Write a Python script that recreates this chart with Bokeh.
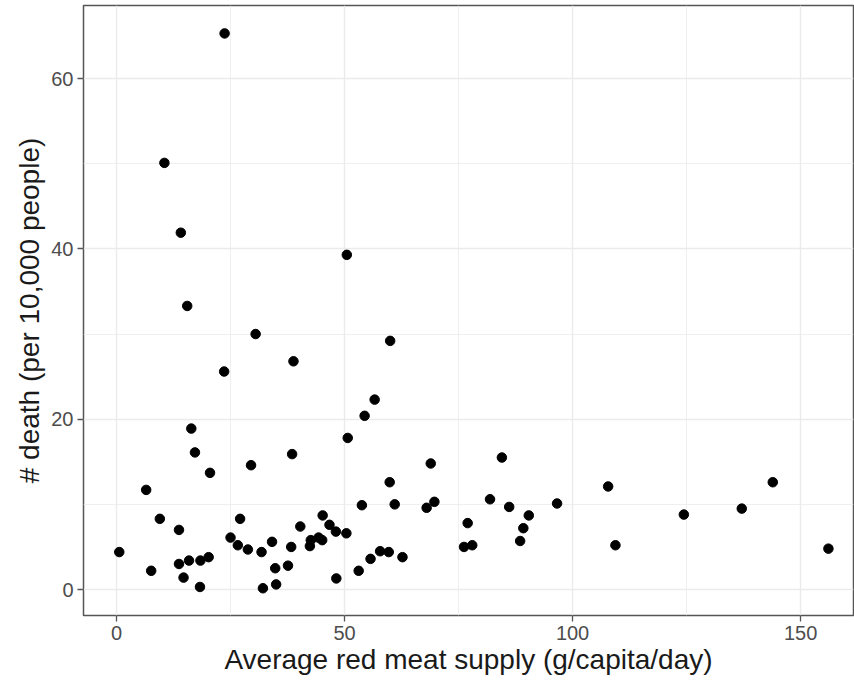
from bokeh.plotting import figure
from bokeh.models import FixedTicker, Range1d, ColumnDataSource
from bokeh.embed import file_html
from bokeh.resources import INLINE

meat_supply = [23.7, 10.5, 14.1, 50.5, 15.5, 30.5, 38.8, 23.6, 60.0, 56.6, 54.4,
               16.4, 17.2, 20.5, 29.5, 38.5, 50.7, 6.5, 9.5, 13.7, 27.1, 25.0,
               26.6, 28.8, 31.8, 34.1, 38.3, 40.3, 42.4, 42.6, 44.3, 45.1, 45.2,
               46.7, 48.1, 50.4, 53.8, 55.7, 53.1, 48.2, 0.6, 7.6, 13.7, 15.9,
               18.4, 20.2, 14.7, 18.3, 34.8, 37.6, 35.0, 32.1,
               68.9, 59.9, 61.0, 68.0, 69.7, 57.8, 59.7, 62.7, 77.0, 76.2, 78.0,
               81.9, 84.5, 86.1, 90.4, 89.2, 88.5, 96.6, 107.8, 109.4,
               124.4, 137.1, 143.9, 156.1]
deaths = [65.3, 50.1, 41.9, 39.3, 33.3, 30.0, 26.8, 25.6, 29.2, 22.3, 20.4,
          18.9, 16.1, 13.7, 14.6, 15.9, 17.8, 11.7, 8.3, 7.0, 8.3, 6.1,
          5.2, 4.7, 4.4, 5.6, 5.0, 7.4, 5.1, 5.8, 6.1, 5.8, 8.7,
          7.6, 6.8, 6.6, 9.9, 3.6, 2.2, 1.3, 4.4, 2.2, 3.0, 3.4,
          3.4, 3.8, 1.4, 0.3, 2.5, 2.8, 0.6, 0.15,
          14.8, 12.6, 10.0, 9.6, 10.3, 4.5, 4.4, 3.8, 7.8, 5.0, 5.2,
          10.6, 15.5, 9.7, 8.7, 7.2, 5.7, 10.1, 12.1, 5.2,
          8.8, 9.5, 12.6, 4.8]

x_ticks = [0, 50, 100, 150]
x_minor = [25, 75, 125]
y_ticks = [0, 20, 40, 60]
y_minor = [10, 30, 50]

src = ColumnDataSource(dict(x=meat_supply, y=deaths))

p = figure(width=854, height=685, output_backend="svg", toolbar_location=None,
           x_range=Range1d(-7.24, 161.6), y_range=Range1d(-3.05, 68.58),
           min_border_left=83, min_border_right=1, min_border_top=5,
           min_border_bottom=70)

p.scatter("x", "y", source=src, size=9.5, color="black")

p.xaxis.ticker = FixedTicker(ticks=x_ticks, minor_ticks=x_minor)
p.yaxis.ticker = FixedTicker(ticks=y_ticks, minor_ticks=y_minor)

p.xgrid.grid_line_color = "#EBEBEB"
p.ygrid.grid_line_color = "#EBEBEB"
p.xgrid.grid_line_width = 1.4
p.ygrid.grid_line_width = 1.4
p.xgrid.minor_grid_line_color = "#EBEBEB"
p.ygrid.minor_grid_line_color = "#EBEBEB"
p.xgrid.minor_grid_line_width = 0.8
p.ygrid.minor_grid_line_width = 0.8

p.outline_line_color = "#555555"
p.outline_line_width = 1.5

for ax in (p.xaxis[0], p.yaxis[0]):
    ax.axis_line_color = None
    ax.major_tick_line_color = "#555555"
    ax.major_tick_line_width = 1.3
    ax.major_tick_out = 6
    ax.major_tick_in = 0
    ax.minor_tick_out = 0
    ax.minor_tick_in = 0
    ax.major_label_text_font = "Liberation Sans"
    ax.major_label_text_font_size = "20px"
    ax.major_label_text_color = "#4D4D4D"
    ax.axis_label_text_font = "Liberation Sans"
    ax.axis_label_text_font_size = "28px"
    ax.axis_label_text_font_style = "normal"
    ax.axis_label_text_color = "#1A1A1A"

p.xaxis.axis_label = "Average red meat supply (g/capita/day)"
p.yaxis.axis_label = "# death (per 10,000 people)"
p.xaxis.major_label_standoff = 4
p.yaxis.major_label_standoff = 4
p.xaxis.axis_label_standoff = 1
p.yaxis.axis_label_standoff = 3

open("out.html", "w").write(file_html(p, INLINE))
